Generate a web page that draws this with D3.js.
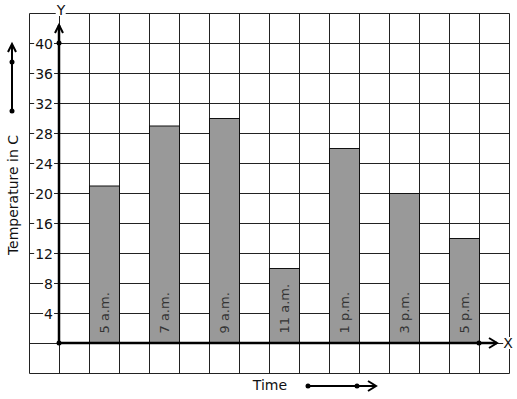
<!DOCTYPE html>
<html>
<head>
<meta charset="utf-8">
<script src="https://cdn.jsdelivr.net/npm/d3@7"></script>
<style>
  body { margin: 0; background: #fff; }
  text { font-family: "DejaVu Sans", sans-serif; }
</style>
</head>
<body>
<svg id="chart" width="517" height="399"></svg>
<script>
// data
const times = ["5 a.m.", "7 a.m.", "9 a.m.", "11 a.m.", "1 p.m.", "3 p.m.", "5 p.m."];
const temps = [21, 29, 30, 10, 26, 20, 14];
const yTicks = [4, 8, 12, 16, 20, 24, 28, 32, 36, 40];

const svg = d3.select("#chart");

// grid: 16 columns x 12 rows of 30px
const gx = d3.scaleLinear().domain([0, 16]).range([29.5, 509.5]);
const y = d3.scaleLinear().domain([-4, 44]).range([373.5, 13.5]);
const x = d3.scaleBand().domain(times).range([gx(1), gx(16)])
  .paddingInner(0.5).paddingOuter(0.5).align(0.5);

const grid = svg.append("g").attr("stroke", "#222").attr("stroke-width", 1);
grid.selectAll(".v").data(d3.range(0, 17)).join("line")
  .attr("x1", d => gx(d)).attr("x2", d => gx(d))
  .attr("y1", y(44)).attr("y2", y(-4));
grid.selectAll(".h").data(d3.range(-4, 45, 4)).join("line")
  .attr("x1", gx(0)).attr("x2", gx(16))
  .attr("y1", d => y(d)).attr("y2", d => y(d));

// bars
svg.append("g").selectAll("rect").data(temps).join("rect")
  .attr("x", (d, i) => x(times[i]))
  .attr("y", d => y(d))
  .attr("width", x.bandwidth())
  .attr("height", d => y(0) - y(d))
  .attr("fill", "#999")
  .attr("stroke", "#111")
  .attr("stroke-width", 1);

svg.append("g").selectAll("text").data(times).join("text")
  .attr("transform", d => `translate(${x(d) + x.bandwidth() / 2 + 4.5},${y(0) - 10}) rotate(-90)`)
  .attr("font-size", 13)
  .attr("fill", "#333")
  .text(d => d);

// y tick labels with white backing
const yl = svg.append("g");
yTicks.forEach(t => {
  const txt = yl.append("text")
    .attr("x", 53).attr("y", y(t) + 5)
    .attr("text-anchor", "end")
    .attr("font-size", 14)
    .attr("fill", "#111")
    .text(t);
  const b = txt.node().getBBox();
  yl.insert("rect", "text").attr("x", b.x - 1).attr("y", b.y + 2)
    .attr("width", b.width + 2).attr("height", b.height - 4).attr("fill", "#fff");
});

// axes
const axes = svg.append("g").attr("stroke", "#000").attr("fill", "none")
  .attr("stroke-width", 2.5);
const ox = gx(1) - 0.5, oy = y(0) - 0.5;
axes.append("line").attr("x1", ox).attr("y1", oy).attr("x2", ox).attr("y2", 25);
axes.append("path").attr("d", `M${ox - 4},33 L${ox},25 L${ox + 4},33`).attr("stroke-width", 2);
axes.append("line").attr("x1", ox).attr("y1", oy).attr("x2", 497).attr("y2", oy);
axes.append("path").attr("d", `M489,${oy - 5} L497,${oy} L489,${oy + 5}`).attr("stroke-width", 2);

const dots = svg.append("g").attr("fill", "#000");
[[ox, oy], [ox, y(40) - 0.5], [gx(15) - 0.5, oy]].forEach(p =>
  dots.append("circle").attr("cx", p[0]).attr("cy", p[1]).attr("r", 2.5));

// axis letters
function letter(s, px, py) {
  const t = svg.append("text").attr("x", px).attr("y", py)
    .attr("text-anchor", "middle").attr("font-size", 14).attr("fill", "#111").text(s);
  const b = t.node().getBBox();
  svg.insert("rect", () => t.node()).attr("x", b.x).attr("y", b.y + 2)
    .attr("width", b.width).attr("height", b.height - 4).attr("fill", "#fff");
}
letter("Y", 61, 15);
letter("X", 508, oy + 5);

// titles
svg.append("text")
  .attr("transform", `translate(18,195) rotate(-90)`)
  .attr("text-anchor", "middle").attr("font-size", 14).attr("fill", "#111")
  .text("Temperature in C");
svg.append("text").attr("x", 270).attr("y", 390)
  .attr("text-anchor", "middle").attr("font-size", 14).attr("fill", "#111")
  .text("Time");

// decorative direction arrows
const dir = svg.append("g").attr("stroke", "#000").attr("fill", "none").attr("stroke-width", 2);
dir.append("line").attr("x1", 12).attr("y1", 111).attr("x2", 12).attr("y2", 44);
dir.append("path").attr("d", "M8,52 L12,44 L16,52");
dir.append("line").attr("x1", 308).attr("y1", 386).attr("x2", 376).attr("y2", 386);
dir.append("path").attr("d", "M368,381 L376,386 L368,391");
[[12, 111], [12, 62], [308, 386], [357, 386]].forEach(p =>
  svg.append("circle").attr("cx", p[0]).attr("cy", p[1]).attr("r", 2.5).attr("fill", "#000"));
</script>
</body>
</html>
